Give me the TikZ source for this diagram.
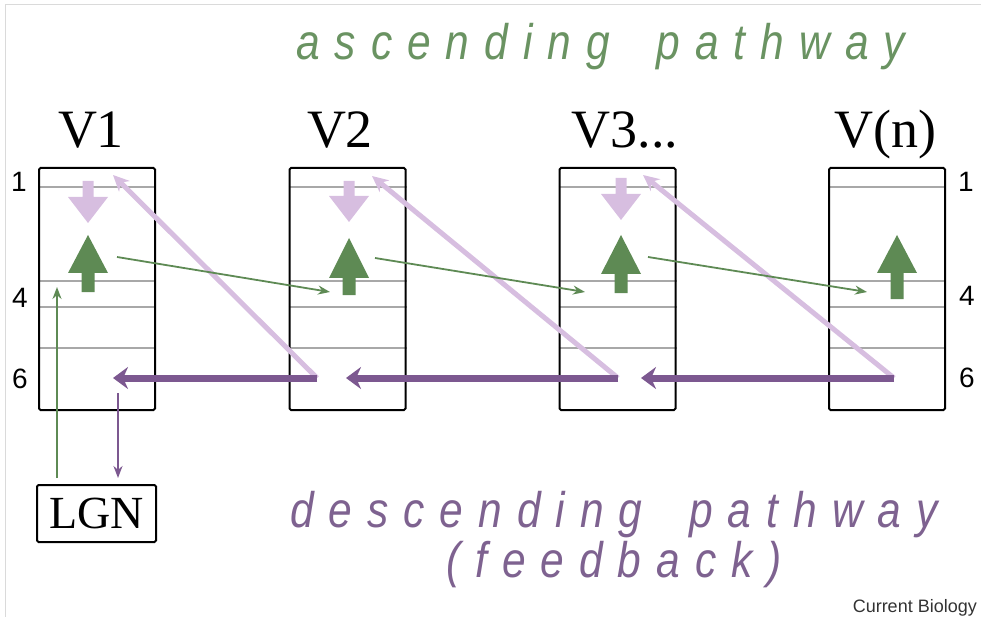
\documentclass[tikz,border=0pt]{standalone}
\usepackage{fontspec}
\setmainfont{Liberation Serif}
\newfontfamily\numfont{Liberation Sans}
\newfontfamily\pathfont[LetterSpace=30,FakeStretch=0.85]{Liberation Sans}
\usetikzlibrary{arrows.meta,backgrounds}

\definecolor{ascgreen}{HTML}{5E8A54}
\definecolor{asctext}{HTML}{6A9362}
\definecolor{fbpale}{HTML}{D7BEE0}
\definecolor{fbdark}{HTML}{7C5890}
\definecolor{fbtext}{HTML}{7E6290}
\definecolor{layergrey}{HTML}{A8A8A8}
\definecolor{framegrey}{HTML}{DADADA}

% extra room between the widely tracked words
\newcommand\pathgap{\hspace{20pt}}

% downward pale feedback block arrow: x, top of shaft, tip
\newcommand\fbblock[3]{%
  \fill[fbpale] ({#1-5.5},#2) -- ({#1+5.5},#2) -- ({#1+5.5},{#3-26}) -- ({#1+20},{#3-26})
    -- (#1,#3) -- ({#1-20},{#3-26}) -- ({#1-5.5},{#3-26}) -- cycle;}
% upward green feedforward block arrow: x, tip, head base, shaft bottom
\newcommand\ffblock[4]{%
  \fill[ascgreen] (#1,#2) -- ({#1+20},#3) -- ({#1+6.5},#3) -- ({#1+6.5},#4)
    -- ({#1-6.5},#4) -- ({#1-6.5},#3) -- ({#1-20},#3) -- cycle;}

\tikzset{
  area/.style={draw=black, line width=2pt, rounded corners=1.5pt,
    minimum width=116pt, minimum height=242pt, inner sep=0pt},
  layer/.style={draw=layergrey, line width=1.2pt},
  arealabel/.style={anchor=base, inner sep=0pt, font=\fontsize{54}{54}\selectfont},
  layernum/.style={anchor=base, inner sep=0pt, font=\numfont\fontsize{28}{28}\selectfont},
  ffthin/.style={draw=ascgreen, line width=1.8pt, -{Stealth[length=12pt,width=9pt]}},
  fbthin/.style={draw=fbdark, line width=2pt, -{Stealth[length=12pt,width=9pt]}},
  fbdiag/.style={draw=fbpale, line width=5pt, -{Stealth[length=16pt,width=15pt]}},
  fbhoriz/.style={draw=fbdark, line width=7pt, -{Stealth[length=15pt,width=22pt]}},
  pathlabel/.style={inner sep=0pt, font=\pathfont\itshape\fontsize{50}{50}\selectfont}
}

\begin{document}
\begin{tikzpicture}[x=1pt, y=-1pt]
\useasboundingbox (0,0) rectangle (981,617);
\draw[framegrey, line width=1pt] (5,617) -- (5,5) -- (981,5);

% cortical areas
\node[area] (v1) at (97,289) {};
\node[area] (v2) at (347.5,289) {};
\node[area] (v3) at (617.5,289) {};
\node[area] (vn) at (887,289) {};

\begin{scope}[on background layer]
  \foreach \b in {v1,v2,v3,vn}
    \foreach \y in {187,281,307,348}
      \draw[layer] (\b.west |- 0,\y) -- (\b.east |- 0,\y);
\end{scope}

\node[arealabel] (l1) at (91,148) {V1};
\node[arealabel] (l2) at (340,148) {V2};
\node[arealabel] (l3) at (625,148) {V3...};
\node[arealabel] (ln) at (885,148) {V(n)};

% layer numbers
\node[layernum] (n1l) at (19,192) {1};
\node[layernum] (n4l) at (20,307) {4};
\node[layernum] (n6l) at (20,388) {6};
\node[layernum] (n1r) at (966,192) {1};
\node[layernum] (n4r) at (967,305) {4};
\node[layernum] (n6r) at (967,387) {6};

% block arrows inside the areas
\fbblock{88}{181}{223}
\fbblock{349}{181}{222}
\fbblock{621}{178}{220}
\ffblock{88}{235}{273}{292}
\ffblock{349}{238}{278}{295}
\ffblock{621}{235}{274}{293}
\ffblock{897}{235}{273}{299}

% thalamus
\node[draw=black, line width=2pt, rounded corners=1.5pt, minimum width=119pt,
  minimum height=57pt, inner sep=0pt, font=\fontsize{46}{46}\selectfont]
  (lgn) at (96.5,513.5) {LGN};

% connector end points
\coordinate (a1) at (117,257); \coordinate (a2) at (330,292);
\coordinate (b1) at (375,258); \coordinate (b2) at (585,292);
\coordinate (c1) at (648,257); \coordinate (c2) at (867,292);
\coordinate (f2) at (317,378); \coordinate (f3) at (618,378); \coordinate (fn) at (894,378);
\coordinate (t1) at (113,175); \coordinate (t2) at (372,176); \coordinate (t3) at (643,175);
\coordinate (h1) at (113,378); \coordinate (h2) at (346,378); \coordinate (h3) at (641,378);
\coordinate (g0) at (57,478); \coordinate (g1) at (57,287);
\coordinate (p0) at (118,393); \coordinate (p1) at (118,478);

% feedback to layer 1
\draw[fbdiag] (f2) -- (t1);
\draw[fbdiag] (f3) -- (t2);
\draw[fbdiag] (fn) -- (t3);

% feedforward
\draw[ffthin] (a1) -- (a2);
\draw[ffthin] (b1) -- (b2);
\draw[ffthin] (c1) -- (c2);
\draw[ffthin] (g0) -- (g1);

% feedback from layer 6
\draw[fbhoriz] (f2) -- (h1);
\draw[fbhoriz] (f3) -- (h2);
\draw[fbhoriz] (fn) -- (h3);
\draw[fbthin] (p0) -- (p1);

% pathway labels
\node[pathlabel, text=asctext, anchor=base west] (asc) at (296,60) {ascending \pathgap pathway};
\node[pathlabel, text=fbtext, anchor=base west] (desc) at (290,527) {descending \pathgap pathway};
\node[pathlabel, text=fbtext, anchor=base] (fbk) at (614,577) {(feedback)};

\node[anchor=base east, inner sep=0pt, text=black!80, font=\numfont\fontsize{18}{18}\selectfont]
  (src) at (977,612) {Current Biology};
\end{tikzpicture}
\end{document}
